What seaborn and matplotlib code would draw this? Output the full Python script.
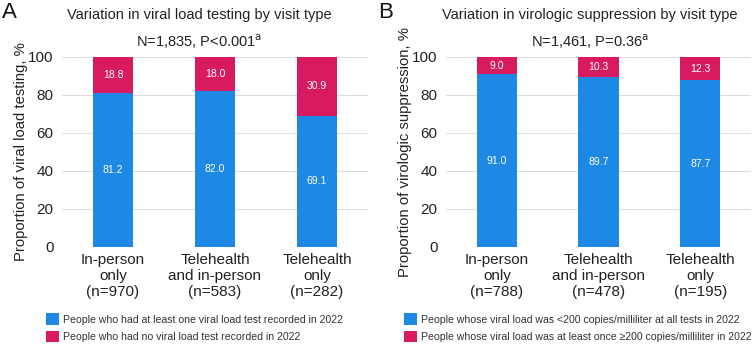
import numpy as np
import pandas as pd
import seaborn as sns
import matplotlib.pyplot as plt
from matplotlib.patches import Patch

# panel A data
cats_a = ["In-person\nonly\n(n=970)", "Telehealth\nand in-person\n(n=583)", "Telehealth\nonly\n(n=282)"]
tested = [81.2, 82.0, 69.1]
not_tested = [18.8, 18.0, 30.9]

# panel B data
cats_b = ["In-person\nonly\n(n=788)", "Telehealth\nand in-person\n(n=478)", "Telehealth\nonly\n(n=195)"]
suppressed = [91.0, 89.7, 87.7]
not_suppressed = [9.0, 10.3, 12.3]

blue = "#1E88E5"
pink = "#D81B60"
txt = "#222222"

sns.set_theme(style="white")
plt.rcParams['font.family'] = ['Liberation Sans', 'DejaVu Sans']

fig = plt.figure(figsize=(7.52, 3.44), dpi=100)
ax_a = fig.add_axes([62/752, 1-247/344, 306/752, 190/344])
ax_b = fig.add_axes([446/752, 1-247/344, 305/752, 190/344])


def draw_panel(ax, cats, low, high, title, subtitle, ylabel, title_x):
    df = pd.DataFrame({"cat": cats, "low": low, "high": high})
    df["total"] = df["low"] + df["high"]
    sns.barplot(data=df, x="cat", y="total", color=pink, width=0.4,
                saturation=1, linewidth=0, ax=ax, zorder=3)
    sns.barplot(data=df, x="cat", y="low", color=blue, width=0.4,
                saturation=1, linewidth=0, ax=ax, zorder=3)
    for i, row in df.iterrows():
        ax.text(i, row["low"] / 2, f"{row['low']:.1f}", ha="center", va="center",
                color="white", fontsize=7.5, zorder=4)
        ax.text(i, row["low"] + row["high"] / 2, f"{row['high']:.1f}", ha="center",
                va="center", color="white", fontsize=7.5, zorder=4)
    ax.set_ylim(0, 100)
    ax.set_xlim(-0.5, 2.5)
    ax.set_yticks([0, 20, 40, 60, 80, 100])
    ax.yaxis.grid(True, color="#dddddd", linewidth=0.8, zorder=0)
    ax.set_axisbelow(True)
    sns.despine(ax=ax, left=True, bottom=True)
    ax.tick_params(axis="both", length=0, labelsize=11, colors=txt)
    ax.tick_params(axis="y", pad=6)
    ax.tick_params(axis="x", pad=4)
    ax.set_xlabel("")
    ax.set_ylabel(ylabel, fontsize=10.7, color=txt, labelpad=0)
    # titles sit centred over the whole panel, not the axes
    fig.text(title_x/752, 1-15/344, title, ha="center", va="center",
             fontsize=10.5, color=txt)
    fig.text(title_x/752, 1-42/344, subtitle, ha="center", va="center",
             fontsize=10.5, color=txt)
    return [Patch(facecolor=blue, edgecolor="none"), Patch(facecolor=pink, edgecolor="none")]


h = draw_panel(ax_a, cats_a, tested, not_tested,
               "Variation in viral load testing by visit type",
               r"N=1,835, P<0.001$^{\mathrm{a}}$",
               "Proportion of viral load testing, %", 199)
fig.legend(h, ["People who had at least one viral load test recorded in 2022",
               "People who had no viral load test recorded in 2022"],
           loc="upper left", bbox_to_anchor=(42/752, 1-309/344), frameon=False,
           fontsize=7.6, handlelength=1.2, handleheight=1.3, handletextpad=0.4,
           labelspacing=0.55, borderaxespad=0, labelcolor="#333333")

h = draw_panel(ax_b, cats_b, suppressed, not_suppressed,
               "Variation in virologic suppression by visit type",
               r"N=1,461, P=0.36$^{\mathrm{a}}$",
               "Proportion of virologic suppression, %", 590)
fig.legend(h, ["People whose viral load was <200 copies/milliliter at all tests in 2022",
               "People whose viral load was at least once \u2265200 copies/milliliter in 2022"],
           loc="upper left", bbox_to_anchor=(400/752, 1-309/344), frameon=False,
           fontsize=7.6, handlelength=1.2, handleheight=1.3, handletextpad=0.4,
           labelspacing=0.55, borderaxespad=0, labelcolor="#333333")

fig.text(2/752, 1-13/344, "A", fontsize=16, va="center", ha="left", color="#111111")
fig.text(378/752, 1-13/344, "B", fontsize=16, va="center", ha="left", color="#111111")

fig.savefig("out.png", dpi=100)
